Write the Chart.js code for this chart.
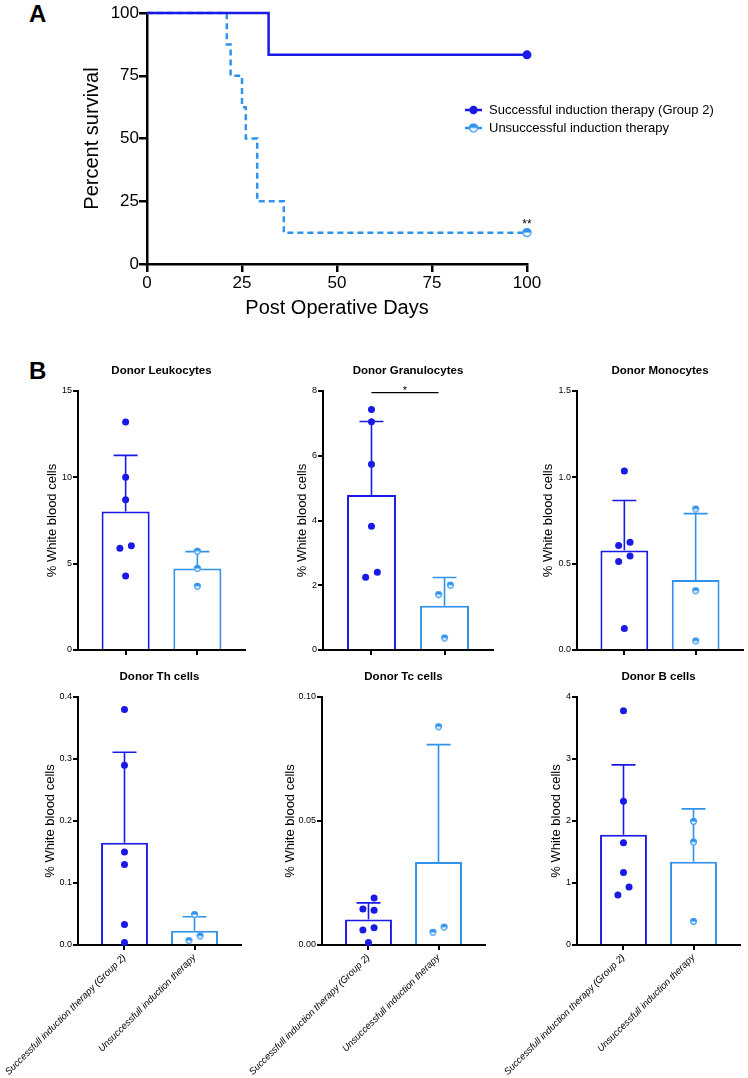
<!DOCTYPE html>
<html>
<head>
<meta charset="utf-8">
<script src="https://cdn.jsdelivr.net/npm/chart.js@4.4.1/dist/chart.umd.min.js"></script>
<style>
  html, body { margin: 0; padding: 0; background: #fff; }
  body { width: 748px; height: 1078px; position: relative; overflow: hidden; font-family: 'Liberation Sans', Arial, Helvetica, sans-serif; }
  canvas { position: absolute; }
  .panel-label { position: absolute; font-weight: bold; font-size: 24px; line-height: 24px; color: #000; }
</style>
</head>
<body>
<div class="panel-label" style="left:29px; top:2px;">A</div>
<div class="panel-label" style="left:29px; top:359px;">B</div>

<canvas id="survival" style="left:0; top:0;"></canvas>
<canvas id="leuko"></canvas>
<canvas id="gran"></canvas>
<canvas id="mono"></canvas>
<canvas id="th"></canvas>
<canvas id="tc"></canvas>
<canvas id="bcell"></canvas>

<script>
// --- Panel A: survival curves ---
const survDaysGood = [0, 32, 100];
const survPctGood  = [100, 83.33, 83.33];
const survDaysPoor = [0, 21, 22, 25, 26, 29, 36, 100];
const survPctPoor  = [100, 87.5, 75, 62.5, 50, 25, 12.5, 12.5];
const survTicks    = [0, 25, 50, 75, 100];
const survLegend   = ['Successful induction therapy (Group 2)', 'Unsuccessful induction therapy'];
const survSig      = '**';

// --- Panel B: donor cell chimerism ---
const groupLabels = ['Successfull induction therapy (Group 2)', 'Unsuccessfull induction therapy'];

const leukoGood = [13.2, 10.0, 8.7, 6.04, 5.9, 4.28];
const leukoPoor = [5.72, 4.72, 3.69];
const leukoMean = [8.02, 4.72];
const leukoSD   = [3.25, 0.98];

const granGood = [7.43, 7.05, 5.74, 3.82, 2.4, 2.25];
const granPoor = [2.0, 1.71, 0.37];
const granMean = [4.79, 1.37];
const granSD   = [2.27, 0.87];

const monoGood = [1.037, 0.624, 0.605, 0.545, 0.513, 0.124];
const monoPoor = [0.816, 0.343, 0.052];
const monoMean = [0.576, 0.405];
const monoSD   = [0.29, 0.385];

const thGood = [0.38, 0.29, 0.15, 0.13, 0.033, 0.004];
const thPoor = [0.049, 0.0145, 0.007];
const thMean = [0.165, 0.023];
const thSD   = [0.146, 0.0226];

const tcGood = [0.019, 0.0145, 0.014, 0.007, 0.006, 0.001];
const tcPoor = [0.088, 0.0072, 0.0051];
const tcMean = [0.0103, 0.0335];
const tcSD   = [0.0067, 0.0473];

const bGood = [3.78, 2.32, 1.65, 1.17, 0.935, 0.805];
const bPoor = [1.99, 1.66, 0.378];
const bMean = [1.78, 1.343];
const bSD   = [1.125, 0.852];

const darkBlue  = '#1a1ae6';
const lightBlue = '#2f93ec';

Chart.defaults.font.family = "'Liberation Sans', Arial, Helvetica, sans-serif";
Chart.defaults.color = '#000';
Chart.defaults.animation = false;
Chart.defaults.plugins.legend.display = false;
Chart.defaults.plugins.tooltip.enabled = false;

// half filled circle used for the unsuccessful group
function halfDot(r, color) {
  const c = document.createElement('canvas');
  const s = Math.ceil(r * 2 + 2);
  c.width = s; c.height = s;
  const g = c.getContext('2d');
  const m = s / 2;
  g.fillStyle = '#fff';
  g.beginPath(); g.arc(m, m, r, 0, Math.PI * 2); g.fill();
  g.fillStyle = color;
  g.beginPath(); g.arc(m, m, r, Math.PI, 0); g.closePath(); g.fill();
  g.strokeStyle = color; g.lineWidth = 1.2;
  g.beginPath(); g.arc(m, m, r - 0.6, 0, Math.PI * 2); g.stroke();
  return c;
}

// spread dots whose values sit too close together
function swarm(values, max) {
  const gap = max * 0.045, step = 0.08;
  const order = values.map((v, i) => i).sort((a, b) => values[b] - values[a]);
  const offs = values.map(() => 0);
  let cluster = [];
  const flush = () => {
    if (cluster.length > 1) cluster.forEach((idx, k) => { offs[idx] = (k % 2 ? -1 : 1) * step; });
    cluster = [];
  };
  order.forEach((cur, k) => {
    if (k > 0 && values[order[k - 1]] - values[cur] >= gap) flush();
    cluster.push(cur);
  });
  flush();
  return offs;
}

function axisLines(width, tickLength) {
  return {
    border: { display: true, color: '#000', width: width },
    grid: { display: true, drawOnChartArea: false, drawTicks: true, tickLength: tickLength, color: '#000', lineWidth: width, offset: false }
  };
}

// ---------------- Panel A ----------------
(function () {
  const canvas = document.getElementById('survival');
  canvas.width = 748; canvas.height = 330;
  const last = (arr, r) => arr.map((_, i) => (i === arr.length - 1 ? r : 0));
  const poorDot = halfDot(4.5, lightBlue);

  const extras = {
    id: 'survivalExtras',
    afterDraw(chart) {
      const { ctx, scales: { x, y } } = chart;
      ctx.save();
      ctx.fillStyle = '#000';
      ctx.font = "12px 'Liberation Sans', Arial, sans-serif";
      ctx.textAlign = 'center';
      ctx.textBaseline = 'alphabetic';
      ctx.fillText(survSig, x.getPixelForValue(survDaysPoor[survDaysPoor.length - 1]),
        y.getPixelForValue(survPctPoor[survPctPoor.length - 1]) - 5);

      const rows = [110, 128];
      ctx.font = "13px 'Liberation Sans', Arial, sans-serif";
      ctx.textAlign = 'left';
      ctx.textBaseline = 'middle';
      survLegend.forEach((txt, i) => {
        const yy = rows[i];
        const col = i === 0 ? darkBlue : lightBlue;
        ctx.strokeStyle = col; ctx.lineWidth = 2.5;
        ctx.beginPath(); ctx.moveTo(465, yy); ctx.lineTo(482, yy); ctx.stroke();
        if (i === 0) {
          ctx.fillStyle = col;
          ctx.beginPath(); ctx.arc(473.5, yy, 4.2, 0, Math.PI * 2); ctx.fill();
        } else {
          ctx.drawImage(poorDot, 473.5 - poorDot.width / 2, yy - poorDot.height / 2);
        }
        ctx.fillStyle = '#000';
        ctx.fillText(txt, 489, yy + 0.5);
      });
      ctx.restore();
    }
  };

  new Chart(canvas, {
    type: 'scatter',
    data: {
      datasets: [
        {
          data: survDaysGood.map((d, i) => ({ x: d, y: survPctGood[i] })),
          showLine: true, stepped: 'before',
          borderColor: darkBlue, borderWidth: 2.5,
          pointRadius: last(survDaysGood, 4.5), pointBackgroundColor: darkBlue, pointBorderWidth: 0,
          clip: false
        },
        {
          data: survDaysPoor.map((d, i) => ({ x: d, y: survPctPoor[i] })),
          showLine: true, stepped: 'before',
          borderColor: lightBlue, borderWidth: 2.5, borderDash: [6, 4],
          pointRadius: last(survDaysPoor, 4.5), pointStyle: poorDot,
          clip: false
        }
      ]
    },
    options: {
      responsive: false,
      layout: { padding: { left: 0, right: 221, top: 13, bottom: 0 } },
      scales: {
        x: Object.assign(axisLines(2.5, 8), {
          type: 'linear', min: 0, max: 100,
          afterBuildTicks: s => { s.ticks = survTicks.map(v => ({ value: v })); },
          ticks: { font: { size: 17 }, padding: 1, color: '#000' },
          title: { display: true, text: 'Post Operative Days', font: { size: 20 }, color: '#000', padding: { top: 0, bottom: 10 } },
          afterFit: s => { s.height = 66; }
        }),
        y: Object.assign(axisLines(2.5, 8), {
          type: 'linear', min: 0, max: 100,
          afterBuildTicks: s => { s.ticks = survTicks.map(v => ({ value: v })); },
          ticks: { font: { size: 17 }, padding: 0, color: '#000' },
          title: { display: true, text: 'Percent survival', font: { size: 20 }, color: '#000', padding: { top: 80, bottom: 0 } },
          afterFit: s => { s.width = 147; }
        })
      }
    },
    plugins: [extras]
  });
})();

// ---------------- Panel B ----------------
const row1 = { top: 355, height: 310, areaTop: 391, areaBottom: 650, titleY: 371, labels: false };
const row2 = { top: 660, height: 418, areaTop: 697, areaBottom: 945, titleY: 677, labels: true };
const halfSmall = halfDot(3.4, lightBlue);

function makePanel(id, g, d) {
  const canvas = document.getElementById(id);
  const row = g.row;
  canvas.width = g.w; canvas.height = row.height;
  canvas.style.left = g.left + 'px';
  canvas.style.top = row.top + 'px';

  const lh = 11.5 * 1.2;
  const titleTop = row.titleY - row.top - lh / 2;
  const titleBottom = (row.areaTop - row.top) - titleTop - lh;
  const xAxisH = row.top + row.height - row.areaBottom;
  const offGood = swarm(d.good, d.max);
  const offPoor = swarm(d.poor, d.max);

  const overlay = {
    id: 'errorBars',
    afterDatasetDraw(chart, args) {
      if (args.index !== 2) return;
      const { ctx, scales: { x, y } } = chart;
      ctx.save();
      ctx.lineWidth = 1.6;
      d.mean.forEach((m, i) => {
        const px = x.getPixelForValue(i);
        const y0 = y.getPixelForValue(m);
        const y1 = y.getPixelForValue(m + d.sd[i]);
        ctx.strokeStyle = i === 0 ? darkBlue : lightBlue;
        ctx.beginPath();
        ctx.moveTo(px, y0); ctx.lineTo(px, y1);
        ctx.moveTo(px - 12, y1); ctx.lineTo(px + 12, y1);
        ctx.stroke();
      });
      if (d.sig) {
        const xa = x.getPixelForValue(d.sig.pair[0]);
        const xb = x.getPixelForValue(d.sig.pair[1]) - 6;
        const yy = y.getPixelForValue(d.sig.level);
        ctx.strokeStyle = '#000'; ctx.lineWidth = 1.3;
        ctx.beginPath(); ctx.moveTo(xa, yy); ctx.lineTo(xb, yy); ctx.stroke();
        ctx.fillStyle = '#000';
        ctx.font = "11px 'Liberation Sans', Arial, sans-serif";
        ctx.textAlign = 'center'; ctx.textBaseline = 'alphabetic';
        ctx.fillText(d.sig.mark, (xa + xb) / 2, yy + 1);
      }
      ctx.restore();
    }
  };

  new Chart(canvas, {
    type: 'bar',
    data: {
      datasets: [
        {
          type: 'scatter',
          data: d.good.map((v, i) => ({ x: offGood[i], y: v })),
          pointStyle: 'circle', pointRadius: 3.5, pointBackgroundColor: darkBlue, pointBorderWidth: 0,
          clip: false
        },
        {
          type: 'scatter',
          data: d.poor.map((v, i) => ({ x: 1 + offPoor[i], y: v })),
          pointStyle: halfSmall, pointRadius: 3.5,
          clip: false
        },
        {
          type: 'bar',
          data: d.mean.map((v, i) => ({ x: i, y: v })),
          backgroundColor: '#fff',
          borderColor: [darkBlue, lightBlue],
          borderWidth: 2,
          categoryPercentage: 0.67, barPercentage: 1
        }
      ]
    },
    options: {
      responsive: false,
      layout: { padding: { left: 0, top: 0, bottom: 0, right: g.left + g.w - g.right } },
      plugins: {
        title: {
          display: true, text: d.title, fullSize: false, color: '#000',
          font: { size: 11.5, weight: 'bold' },
          padding: { top: titleTop, bottom: titleBottom }
        }
      },
      scales: {
        x: Object.assign(axisLines(2, 5), {
          type: 'linear', min: -0.664, max: 1.664, offset: false,
          afterBuildTicks: s => { s.ticks = [{ value: 0 }, { value: 1 }]; },
          ticks: {
            autoSkip: false,
            minRotation: row.labels ? 45 : 0, maxRotation: row.labels ? 45 : 0,
            font: { size: 9.5, style: 'italic' }, padding: 2, color: '#000',
            callback: v => (row.labels ? groupLabels[v] : '')
          },
          afterFit: s => {
            s.height = xAxisH;
            s.paddingLeft = 0; s.paddingRight = 0;
          }
        }),
        y: Object.assign(axisLines(2, 5), {
          type: 'linear', min: 0, max: d.max,
          ticks: { stepSize: d.step, font: { size: 9 }, padding: 1, color: '#000', callback: v => Number(v).toFixed(d.dec) },
          title: { display: true, text: '% White blood cells', color: '#000', font: { size: 13 }, padding: { top: g.titleX - g.left - 7.8, bottom: 0 } },
          afterFit: s => { s.width = g.axisX - g.left; }
        })
      }
    },
    plugins: [overlay]
  });
}

makePanel('leuko', { row: row1, left: 0,   w: 250, axisX: 78,  right: 248, titleX: 52 },
  { title: 'Donor Leukocytes', good: leukoGood, poor: leukoPoor, mean: leukoMean, sd: leukoSD, max: 15, step: 5, dec: 0 });
makePanel('gran',  { row: row1, left: 250, w: 250, axisX: 323, right: 493, titleX: 302 },
  { title: 'Donor Granulocytes', good: granGood, poor: granPoor, mean: granMean, sd: granSD, max: 8, step: 2, dec: 0,
    sig: { pair: [0, 1], level: 7.95, mark: '*' } });
makePanel('mono',  { row: row1, left: 500, w: 248, axisX: 577, right: 747, titleX: 548 },
  { title: 'Donor Monocytes', good: monoGood, poor: monoPoor, mean: monoMean, sd: monoSD, max: 1.5, step: 0.5, dec: 1 });
makePanel('th',    { row: row2, left: 0,   w: 250, axisX: 78,  right: 241, titleX: 50 },
  { title: 'Donor Th cells', good: thGood, poor: thPoor, mean: thMean, sd: thSD, max: 0.4, step: 0.1, dec: 1 });
makePanel('tc',    { row: row2, left: 200, w: 300, axisX: 322, right: 485, titleX: 290 },
  { title: 'Donor Tc cells', good: tcGood, poor: tcPoor, mean: tcMean, sd: tcSD, max: 0.1, step: 0.05, dec: 2 });
makePanel('bcell', { row: row2, left: 450, w: 298, axisX: 577, right: 740, titleX: 556 },
  { title: 'Donor B cells', good: bGood, poor: bPoor, mean: bMean, sd: bSD, max: 4, step: 1, dec: 0 });
</script>
</body>
</html>
